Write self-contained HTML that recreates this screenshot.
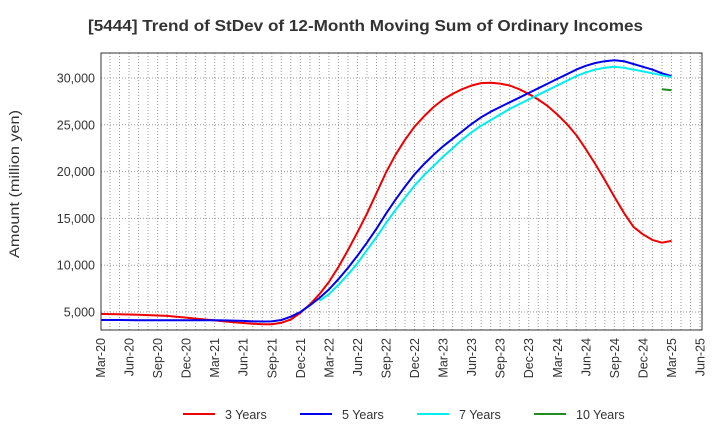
<!DOCTYPE html>
<html><head><meta charset="utf-8"><style>
body{margin:0;background:#fff;font-family:"Liberation Sans",sans-serif}
svg text{font-family:"Liberation Sans",sans-serif}
</style></head><body>
<svg id="c" width="720" height="440" xmlns="http://www.w3.org/2000/svg">
<text x="88" y="31" textLength="555" lengthAdjust="spacingAndGlyphs" font-size="15.5" font-weight="bold" fill="#333">[5444]  Trend of StDev of 12-Month Moving Sum of Ordinary Incomes</text>
<text transform="translate(19,258) rotate(-90)" textLength="148" lengthAdjust="spacingAndGlyphs" font-size="13.5" fill="#333">Amount (million yen)</text>
<g id="grid"></g><g id="series"></g><g id="axes"></g><g id="legend"></g>
</svg>
<script>
const xLabels=["Mar-20","Jun-20","Sep-20","Dec-20","Mar-21","Jun-21","Sep-21","Dec-21","Mar-22","Jun-22","Sep-22","Dec-22","Mar-23","Jun-23","Sep-23","Dec-23","Mar-24","Jun-24","Sep-24","Dec-24","Mar-25","Jun-25"];
const yTicks=[5000,10000,15000,20000,25000,30000];
const s3=[4800,4780,4760,4730,4700,4670,4630,4580,4500,4400,
4300,4200,4100,4000,3900,3820,3750,3700,3700,3850,4200,4900,
5800,6900,8200,9800,11600,13500,15500,17700,19900,21800,23400,24800,
25900,26900,27700,28300,28800,29200,29450,29500,29400,29200,28800,28300,
27700,27000,26100,25100,23900,22400,20800,19100,17300,15600,14100,13300,
12700,12400,12600];
const s5=[4150,4150,4140,4130,4120,4120,4110,4110,4110,4120,
4120,4120,4110,4100,4080,4050,4000,3980,4000,4150,4500,5000,
5700,6500,7400,8500,9700,11000,12400,13900,15500,17000,18400,19700,
20800,21800,22700,23500,24300,25100,25800,26400,26900,27400,27900,28400,
28900,29400,29900,30400,30900,31300,31600,31800,31900,31800,31500,31200,
30900,30500,30200];
const s7=[null,null,null,null,null,null,null,null,null,null,
null,null,null,null,null,null,null,null,null,null,null,null,
null,6200,6900,7900,9000,10200,11600,13000,14500,15900,17200,18500,
19600,20600,21600,22500,23400,24200,24900,25500,26100,26700,27200,27700,
28200,28700,29200,29700,30200,30600,30900,31100,31200,31100,30900,30700,
30500,30300,30100];
const s10=[null,null,null,null,null,null,null,null,null,null,
null,null,null,null,null,null,null,null,null,null,null,null,
null,null,null,null,null,null,null,null,null,null,null,null,
null,null,null,null,null,null,null,null,null,null,null,null,
null,null,null,null,null,null,null,null,null,null,null,null,
null,28800,28700];
const seriesNames=["3 Years","5 Years","7 Years","10 Years"];
const NS="http://www.w3.org/2000/svg";
const L=101,R=702,T=53,B=330;
const x=i=>100.5+i*(599.5/63);
const y=v=>312-(v-5000)*(234/25000);
function mk(t,a,p){const e=document.createElementNS(NS,t);for(const k in a)e.setAttribute(k,a[k]);p.appendChild(e);return e;}
const g=document.getElementById('grid');
for(let m=0;m<=63;m++){const xx=x(m);if(xx<=L+1||xx>=R-1)continue;
const l=mk('line',{x1:xx,x2:xx,y1:T,y2:B,stroke:'#999','stroke-width':1,'stroke-dasharray':'1,2'},g);

}
yTicks.forEach(v=>{const l=mk('line',{x1:L,x2:R,y1:y(v),y2:y(v),stroke:'#999','stroke-width':1,'stroke-dasharray':'1,2'},g);

});
const a=document.getElementById('axes');
const fr=mk('rect',{x:L,y:T,width:R-L,height:B-T,fill:'none',stroke:'#333','stroke-width':1},a);


yTicks.forEach(v=>{const t=mk('text',{x:L-6,y:y(v)+4.5,'text-anchor':'end','font-size':12.5,fill:'#333'},a);t.textContent=v.toLocaleString('en-US');

});
xLabels.forEach((s,i)=>{const xx=x(i*3);const t=mk('text',{transform:`translate(${xx+4.5},${B+8}) rotate(-90)`,'text-anchor':'end','font-size':12.5,fill:'#333'},a);t.textContent=s;

});
const colors=['#ee0000','#0000ee','#00eeee','#228b22'];
const sg=document.getElementById('series');
[s3,s5,s7,s10].forEach((arr,k)=>{let d='';let pen=false;arr.forEach((v,i)=>{if(v==null){pen=false;return;}d+=(pen?'L':'M')+x(i).toFixed(1)+','+y(v).toFixed(1);pen=true;});
const p=mk('path',{d:d,fill:'none',stroke:colors[k],'stroke-width':2,'stroke-linejoin':'round'},sg);

});
const lg=document.getElementById('legend');
const lx=[183,300,417,534];
seriesNames.forEach((n,k)=>{const e=mk('g',{},lg);


mk('line',{x1:lx[k],x2:lx[k]+32,y1:414,y2:414,stroke:colors[k],'stroke-width':2},e);
const t=mk('text',{x:lx[k]+42,y:419,'font-size':12.5,fill:'#333'},e);t.textContent=n;});
</script>
</body></html>
